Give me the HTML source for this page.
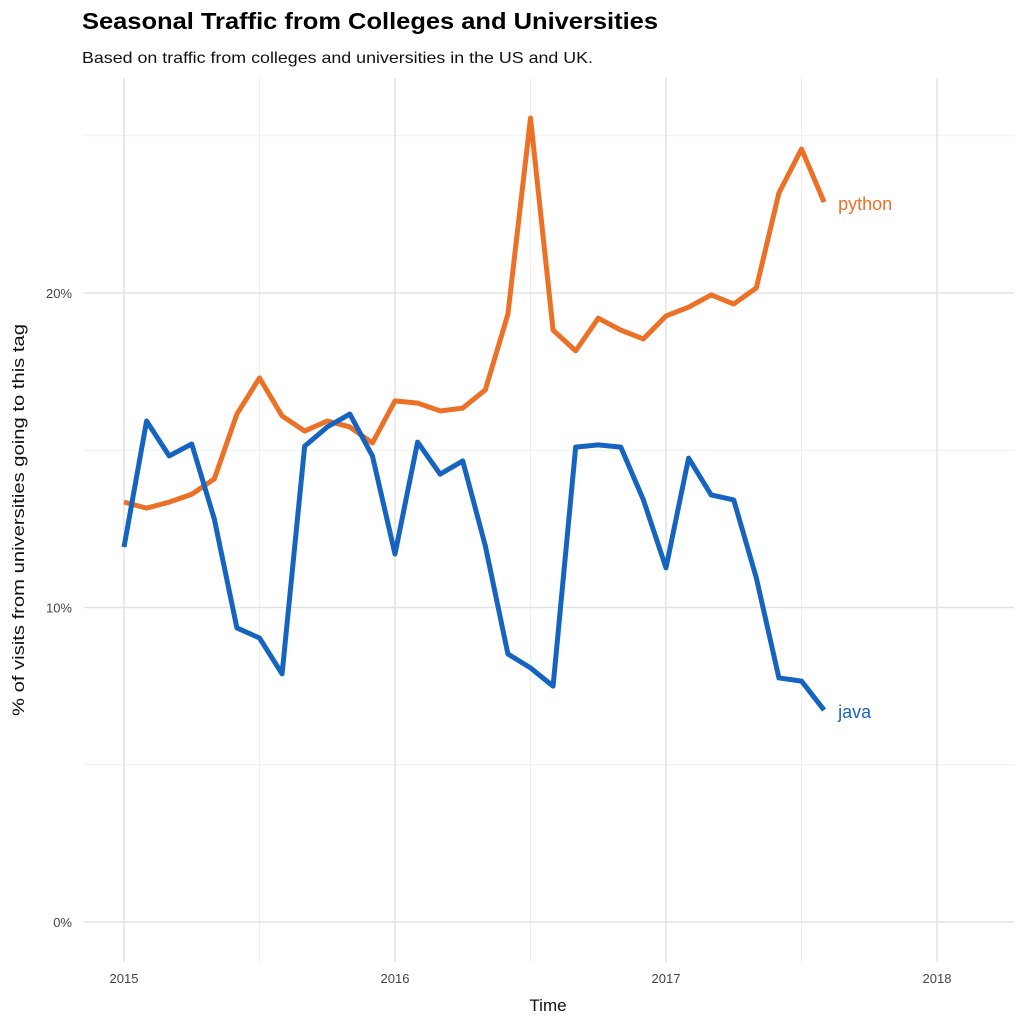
<!DOCTYPE html>
<html><head><meta charset="utf-8"><style>
body{margin:0;background:#fff;font-family:"Liberation Sans",sans-serif}
svg text{font-family:"Liberation Sans",sans-serif}
</style></head><body>
<svg id="chart" width="1024" height="1024">
<text x="82" y="29" font-size="23" font-weight="bold" fill="#000" textLength="576" lengthAdjust="spacingAndGlyphs">Seasonal Traffic from Colleges and Universities</text>
<text x="82" y="63" font-size="16" fill="#111" textLength="511" lengthAdjust="spacingAndGlyphs">Based on traffic from colleges and universities in the US and UK.</text>
<g id="grid"></g>
<g id="axes"></g>
<g id="series"></g>
<text x="548" y="1011" font-size="17" text-anchor="middle" fill="#111">Time</text>
<text transform="translate(24,520) rotate(-90)" font-size="17" text-anchor="middle" fill="#111" textLength="392" lengthAdjust="spacingAndGlyphs">% of visits from universities going to this tag</text>
</svg>
<script>
const python=[13.35,13.16,13.35,13.6,14.09,16.15,17.3,16.09,15.61,15.93,15.74,15.23,16.57,16.5,16.25,16.34,16.92,19.33,25.56,18.82,18.16,19.2,18.82,18.54,19.27,19.55,19.94,19.65,20.16,23.18,24.58,22.89];
const java=[11.92,15.93,14.82,15.2,12.81,9.35,9.03,7.89,15.13,15.74,16.15,14.82,11.7,15.26,14.24,14.66,11.96,8.52,8.08,7.5,15.1,15.17,15.1,13.42,11.26,14.75,13.58,13.42,10.94,7.76,7.66,6.74];
const yTicks=[0,10,20];
const yMinor=[5,15,25];
const xTicks=[2015,2016,2017,2018];
const NS="http://www.w3.org/2000/svg";
const X=t=>124+(t-2015)*271;
const Y=v=>922-v*31.45;
function mk(tag,attrs,parent){const e=document.createElementNS(NS,tag);for(const k in attrs)e.setAttribute(k,attrs[k]);parent.appendChild(e);return e;}
const grid=document.getElementById('grid'),axes=document.getElementById('axes'),series=document.getElementById('series');
yMinor.forEach(v=>{const l=mk('line',{x1:84,x2:1014,y1:Y(v),y2:Y(v),stroke:'#efefef','stroke-width':1},grid);

});
xTicks.slice(0,3).forEach(t=>{const l=mk('line',{x1:X(t+0.5),x2:X(t+0.5),y1:78,y2:962,stroke:'#efefef','stroke-width':1},grid);

});
yTicks.forEach(v=>{const l=mk('line',{x1:84,x2:1014,y1:Y(v),y2:Y(v),stroke:'#e3e3e3','stroke-width':1.5},grid);


const t=mk('text',{x:72,y:Y(v)+5,'font-size':13,'text-anchor':'end',fill:'#444'},axes);t.textContent=v+'%';

});
xTicks.forEach(tk=>{const l=mk('line',{x1:X(tk),x2:X(tk),y1:78,y2:962,stroke:'#e3e3e3','stroke-width':1.5},grid);


const t=mk('text',{x:X(tk),y:983,'font-size':13,'text-anchor':'middle',fill:'#444'},axes);t.textContent=tk;

});
function draw(vals,color,name){const pts=vals.map((v,i)=>X(2015+i/12)+','+Y(v)).join(' ');
const p=mk('polyline',{points:pts,fill:'none',stroke:color,'stroke-width':5,'stroke-linejoin':'round'},series);


const last=vals[vals.length-1];
const t=mk('text',{x:X(2015+(vals.length-1)/12)+14,y:Y(last)+8,'font-size':18,fill:color},series);t.textContent=name;

}
draw(python,'#ec7025','python');
draw(java,'#1565c0','java');
</script>
</body></html>
